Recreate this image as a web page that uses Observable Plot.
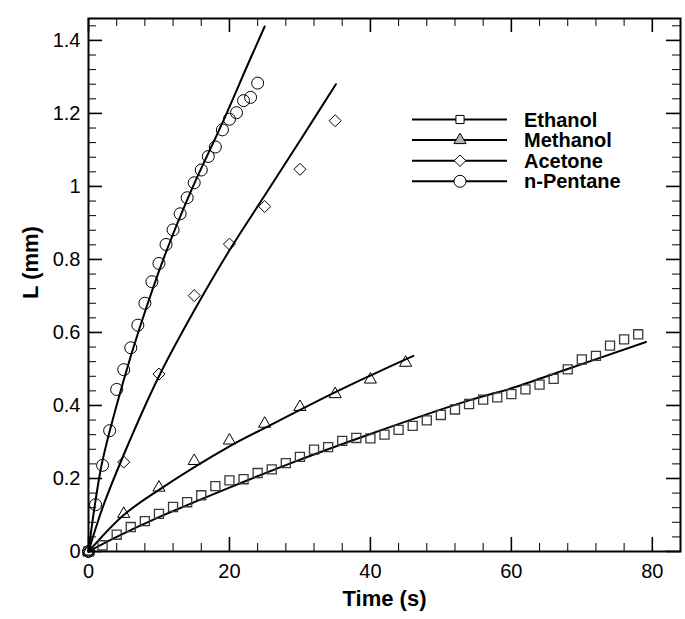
<!DOCTYPE html>
<html><head><meta charset="utf-8">
<script src="https://cdn.jsdelivr.net/npm/d3@7"></script>
<script src="https://cdn.jsdelivr.net/npm/@observablehq/plot@0.6"></script>
<style>body{margin:0;background:#fff}#chart{width:685px;height:619px}</style>
</head><body><div id="chart"></div>
<script>
// ---------- data ----------
const seriesNames = ["Ethanol", "Methanol", "Acetone", "n-Pentane"];

const ethanolT = [0,2,4,6,8,10,12,14,16,18,20,22,24,26,28,30,32,34,36,38,40,42,44,46,48,50,52,54,56,58,60,62,64,66,68,70,72,74,76,78];
const ethanolL = [0,0.017,0.046,0.067,0.083,0.103,0.122,0.135,0.154,0.179,0.195,0.198,0.215,0.225,0.242,0.259,0.279,0.286,0.303,0.311,0.310,0.320,0.333,0.344,0.359,0.374,0.389,0.404,0.416,0.422,0.431,0.444,0.457,0.473,0.499,0.526,0.536,0.564,0.581,0.595];

const methanolT = [0,5,10,15,20,25,30,35,40,45];
const methanolL = [0,0.103,0.175,0.248,0.304,0.350,0.396,0.431,0.471,0.517];

const acetoneT = [0,5,10,15,20,25,30,35];
const acetoneL = [0,0.245,0.486,0.701,0.842,0.945,1.047,1.180];

const pentaneT = [0,1,2,3,4,5,6,7,8,9,10,11,12,13,14,15,16,17,18,19,20,21,22,23,24];
const pentaneL = [0,0.128,0.236,0.331,0.444,0.498,0.558,0.620,0.680,0.739,0.789,0.841,0.881,0.925,0.969,1.010,1.045,1.082,1.108,1.155,1.184,1.202,1.235,1.244,1.283];

// fitted curves
const ethanolFitT = [0,4,10,20,27.9,40,54,60,68,79.1];
const ethanolFitL = [0,0.040,0.094,0.175,0.236,0.322,0.414,0.447,0.500,0.574];
const methanolFitT = [0,5,10,20,25.7,35.1,40,46.1];
const methanolFitL = [0,0.100,0.169,0.288,0.345,0.437,0.482,0.536];
const acetoneFitT = [0,2,5,10,15,20,25,30,35.1];
const acetoneFitL = [0,0.120,0.265,0.480,0.660,0.825,0.975,1.125,1.280];
const pentaneFitT = [0,1,2,5,7.3,10.8,14.6,18.9,22.9,25];
const pentaneFitL = [0,0.140,0.250,0.470,0.615,0.810,0.990,1.170,1.347,1.438];

// axes
const xMajor = [0,20,40,60,80];
const xLabels = ["0","20","40","60","80"];
const xMinor = [4,8,12,16,24,28,32,36,44,48,52,56,64,68,72,76];
const yMajor = [0,0.2,0.4,0.6,0.8,1.0,1.2,1.4];
const yLabels = ["0","0.2","0.4","0.6","0.8","1","1.2","1.4"];
const yMinor = [0.04,0.08,0.12,0.16,0.24,0.28,0.32,0.36,0.44,0.48,0.52,0.56,0.64,0.68,0.72,0.76,0.84,0.88,0.92,0.96,1.04,1.08,1.12,1.16,1.24,1.28,1.32,1.36,1.44];
const xTitle = "Time (s)";
const yTitle = "L (mm)";

// ---------- build ----------
const zip = (name, T, L) => T.map((t, i) => ({name, t, L: L[i]}));
const points = {
  "Ethanol": zip("Ethanol", ethanolT, ethanolL),
  "Methanol": zip("Methanol", methanolT, methanolL),
  "Acetone": zip("Acetone", acetoneT, acetoneL),
  "n-Pentane": zip("n-Pentane", pentaneT, pentaneL)
};
const fits = [
  ...zip("Ethanol", ethanolFitT, ethanolFitL),
  ...zip("Methanol", methanolFitT, methanolFitL),
  ...zip("Acetone", acetoneFitT, acetoneFitL),
  ...zip("n-Pentane", pentaneFitT, pentaneFitL)
];
const symbolOf = {"Ethanol":"square","Methanol":"triangle","Acetone":"diamond2","n-Pentane":"circle"};
const rOf = {"Ethanol":5.1,"Methanol":4.5,"Acetone":5.4,"n-Pentane":6};
const strokeOf = {"Ethanol":"#3a3a3a","Methanol":"#000","Acetone":"#000","n-Pentane":"#000"};
const swOf = {"Ethanol":1.3,"Methanol":1,"Acetone":1,"n-Pentane":1};

const W = 685, H = 619, mL = 88, mR = 5, mT = 18, mB = 68;
const fw = W - mL - mR, fh = H - mT - mB;
const FONT = "'Liberation Sans', Arial, Helvetica, sans-serif";
const majorLen = 14, minorLen = 8;

const plot = Plot.plot({
  width: W, height: H,
  marginLeft: mL, marginRight: mR, marginTop: mT, marginBottom: mB,
  style: {fontFamily: FONT, background: "#fff", color: "#000", overflow: "visible"},
  x: {domain: [0, 84]},
  y: {domain: [0, 1.46]},
  marks: [
    // ticks (inward, all four sides)
    Plot.ruleX(xMajor, {x: d => d, insetTop: fh - majorLen, strokeWidth: 1.6}),
    Plot.ruleX(xMajor, {x: d => d, insetBottom: fh - majorLen, strokeWidth: 1.6}),
    Plot.ruleX(xMinor, {x: d => d, insetTop: fh - minorLen, strokeWidth: 1}),
    Plot.ruleX(xMinor, {x: d => d, insetBottom: fh - minorLen, strokeWidth: 1}),
    Plot.ruleY(yMajor, {y: d => d, insetRight: fw - majorLen, strokeWidth: 1.6}),
    Plot.ruleY(yMajor, {y: d => d, insetLeft: fw - majorLen, strokeWidth: 1.6}),
    Plot.ruleY(yMinor, {y: d => d, insetRight: fw - minorLen, strokeWidth: 1}),
    Plot.ruleY(yMinor, {y: d => d, insetLeft: fw - minorLen, strokeWidth: 1}),
    Plot.axisX(xMajor, {tickSize: 0, tickPadding: 12, tickFormat: d => xLabels[xMajor.indexOf(d)], fontSize: 20, label: null}),
    Plot.axisY(yMajor, {tickSize: 0, tickPadding: 8, tickFormat: d => yLabels[yMajor.indexOf(d)], fontSize: 20, label: null}),
    Plot.text([xTitle], {frameAnchor: "bottom", dy: 54, text: d => d, fontSize: 22, fontWeight: "bold"}),
    Plot.text([yTitle], {frameAnchor: "left", dx: -58, dy: 14, rotate: -90, text: d => d, fontSize: 22, fontWeight: "bold"}),
    // fit lines
    Plot.line(fits, {x: "t", y: "L", z: "name", stroke: "#000", strokeWidth: 2, curve: "catmull-rom"}),
    // markers
    ...seriesNames.map(n => Plot.dot(points[n], {x: "t", y: "L", symbol: () => symbolOf[n], r: rOf[n], fill: "none", stroke: strokeOf[n], strokeWidth: swOf[n]})),
    Plot.frame({strokeWidth: 2})
  ]
});

document.getElementById("chart").appendChild(plot);

// ---------- legend (inside plot area, top right) ----------
const svg = d3.select(plot);
const lg = svg.append("g").attr("font-family", FONT).attr("text-anchor", "start");
const d3sym = {"Ethanol": d3.symbolSquare, "Methanol": d3.symbolTriangle, "Acetone": d3.symbolDiamond2, "n-Pentane": d3.symbolCircle};
const legFill = {"Ethanol": "#fff", "Methanol": "#b4b4b4", "Acetone": "#fff", "n-Pentane": "#fff"};
const legR = {"Ethanol": 4.6, "Methanol": 4.5, "Acetone": 5.2, "n-Pentane": 6};
const legX1 = 412, legX2 = 507, legMX = 460, legTX = 524, legY0 = 119.5, legDY = 20.6;
seriesNames.forEach((n, i) => {
  const y = legY0 + i * legDY;
  lg.append("line").attr("x1", legX1).attr("x2", legX2).attr("y1", y).attr("y2", y).attr("stroke", "#000").attr("stroke-width", 2);
  lg.append("path").attr("transform", `translate(${legMX},${y})`)
    .attr("d", d3.symbol(d3sym[n], Math.PI * legR[n] * legR[n])())
    .attr("fill", legFill[n]).attr("stroke", "#000").attr("stroke-width", 1);
  lg.append("text").attr("x", legTX).attr("y", y + 7).attr("font-size", 20).attr("font-weight", "bold")
    .attr("text-anchor", "start").attr("fill", "#000").text(n);
});
</script>
</body></html>
